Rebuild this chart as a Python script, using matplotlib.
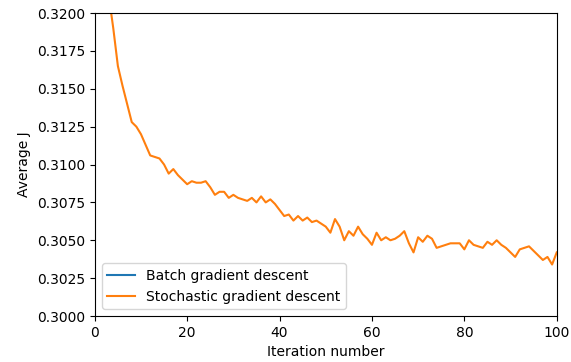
import numpy as np
import matplotlib
matplotlib.use('Agg')
import matplotlib.pyplot as plt

# average cost J per iteration
iterations = list(range(0, 101))
stochastic_j = [
    0.3450, 0.3330, 0.3260, 0.3212, 0.3190, 0.3165, 0.3152, 0.3140, 0.3128, 0.3125,
    0.3120, 0.3113, 0.3106, 0.3105, 0.3104, 0.3100, 0.3094, 0.3097, 0.3093, 0.3090,
    0.3087, 0.3089, 0.3088, 0.3088, 0.3089, 0.3085, 0.3080, 0.3082, 0.3082, 0.3078,
    0.3080, 0.3078, 0.3077, 0.3076, 0.3078, 0.3075, 0.3079, 0.3075, 0.3077, 0.3074,
    0.3070, 0.3066, 0.3067, 0.3063, 0.3066, 0.3063, 0.3065, 0.3062, 0.3063, 0.3061,
    0.3059, 0.3055, 0.3064, 0.3059, 0.3050, 0.3056, 0.3053, 0.3059, 0.3054, 0.3051,
    0.3047, 0.3055, 0.3050, 0.3052, 0.3050, 0.3051, 0.3053, 0.3056, 0.3048, 0.3042,
    0.3052, 0.3049, 0.3053, 0.3051, 0.3045, 0.3046, 0.3047, 0.3048, 0.3048, 0.3048,
    0.3044, 0.3050, 0.3047, 0.3046, 0.3045, 0.3049, 0.3047, 0.3050, 0.3047, 0.3045,
    0.3042, 0.3039, 0.3044, 0.3045, 0.3046, 0.3043, 0.3040, 0.3037, 0.3039, 0.3034,
    0.3042,
]
# batch curve is not visible inside the plotted range
batch_iterations = []
batch_j = []

fig = plt.figure(figsize=(5.71, 3.62), dpi=100)
ax = fig.add_axes([0.166, 0.127, 0.809, 0.837])

ax.plot(batch_iterations, batch_j, color='C0', label='Batch gradient descent')
ax.plot(iterations, stochastic_j, color='C1', label='Stochastic gradient descent')

ax.set_xlim(0, 100)
ax.set_ylim(0.3, 0.32)
ax.set_yticks(np.arange(0.3, 0.32001, 0.0025))
ax.yaxis.set_major_formatter(matplotlib.ticker.FormatStrFormatter('%.4f'))
ax.tick_params(labelsize=10)
ax.set_xlabel('Iteration number', fontsize=10)
ax.set_ylabel('Average J', fontsize=10)
ax.legend(loc='lower left', fontsize=10)

plt.savefig('out.png', dpi=100)
